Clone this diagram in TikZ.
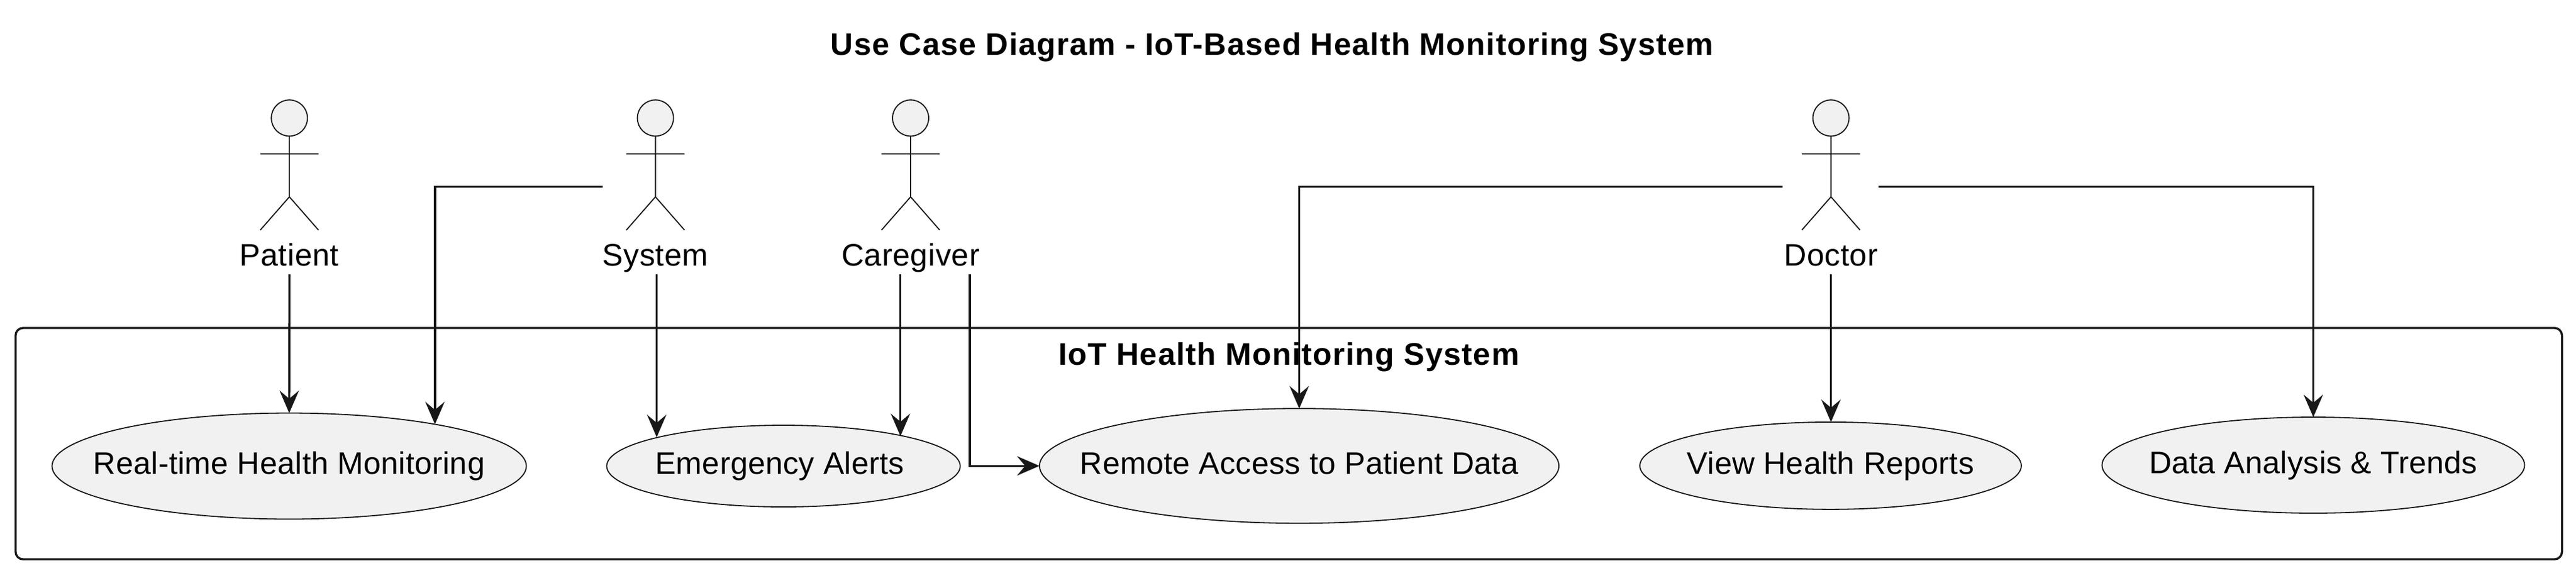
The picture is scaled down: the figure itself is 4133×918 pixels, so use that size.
\documentclass[tikz,border=0pt]{standalone}
\usepackage{fontspec}
\setmainfont{Liberation Sans}
\newfontfamily\titlefamily[LetterSpace=2.8]{Liberation Sans}
\newfontfamily\actorfamily[LetterSpace=1.2]{Liberation Sans}
\newfontfamily\casefamily[LetterSpace=0.7]{Liberation Sans}
\usetikzlibrary{arrows.meta,shapes.geometric}
\definecolor{umlline}{HTML}{181818}
\definecolor{umlfill}{HTML}{F1F1F1}
\newcommand{\casetext}[1]{\makebox[0pt]{#1}}
\tikzset{
    boldtext/.style={font=\titlefamily\fontsize{25}{29}\selectfont\bfseries,text=black,inner sep=0,outer sep=0,anchor=base},
    actorlabel/.style={font=\actorfamily\fontsize{25}{29}\selectfont,text=black,inner sep=0,outer sep=0,text height=18pt,text depth=7pt,anchor=north},
    usecase/.style={font=\casefamily\fontsize{25}{29}\selectfont,text=black,inner sep=0,outer sep=0,ellipse,draw=umlline,fill=umlfill,line width=0.9pt,text height=18pt,text depth=4.8pt},
    sysframe/.style={draw=umlline,line width=1.7pt,rounded corners=6pt,inner sep=0,outer sep=0},
    conn/.style={draw=umlline,line width=1.7pt,-{Stealth[length=18pt,width=15.5pt,inset=6.5pt,umlline]}},
    stickman/.pic={
        \draw[umlline,line width=0.9pt,fill=umlfill] (0,0) circle (29);
        \draw[umlline,line width=0.9pt] (0,29)--(0,126.4) (-46.7,57.4)--(46.7,57.4)
            (-46.7,179.7)--(0,126.4)--(46.7,179.7);
    }
}
\begin{document}
\begin{tikzpicture}[x=0.5pt,y=-0.5pt]
            \useasboundingbox (0,0) rectangle (4133,918);
            \node[boldtext] (maintitle) at (2041,88.3) {Use Case Diagram - IoT-Based Health Monitoring System};
            \node[sysframe,minimum width=2042.75pt,minimum height=185.5pt] (sysbox) at (2067.75,711.5) {};
            \node[boldtext] (systitle) at (2068,585.7) {IoT Health Monitoring System};

            \pic at (464.3,189.3) {stickman};
            \pic at (1051.6,189.3) {stickman};
            \pic at (1461,189.3) {stickman};
            \pic at (2937.6,189.3) {stickman};
            \node[actorlabel] (patient) at (464.3,390) {Patient};
            \node[actorlabel] (system) at (1051.6,390) {System};
            \node[actorlabel] (caregiver) at (1461,390) {Caregiver};
            \node[actorlabel] (doctor) at (2937.6,390) {Doctor};

            \node[usecase,minimum width=380.5pt,minimum height=85pt] (monitoring) at (464,747.5) {\casetext{Real-time Health Monitoring}};
            \node[usecase,minimum width=283.6pt,minimum height=65.5pt] (alerts) at (1257,747.5) {\casetext{Emergency Alerts\hspace{6pt}}};
            \node[usecase,minimum width=416.7pt,minimum height=92pt] (remote) at (2084.5,747.2) {\casetext{Remote Access to Patient Data}};
            \node[usecase,minimum width=306pt,minimum height=70pt] (reports) at (2937,746.9) {\casetext{View Health Reports}};
            \node[usecase,minimum width=339pt,minimum height=77pt] (trends) at (3711.5,746) {\casetext{Data Analysis \& Trends}};

            \coordinate (sysleft) at (967,299.5);
            \coordinate (sysdown) at (1053.6,440);
            \coordinate (carein) at (1444.7,440);
            \coordinate (careout) at (1556,440);
            \coordinate (docleft) at (2860,299.5);
            \coordinate (docright) at (3013.6,299.5);

            \draw[conn] (patient.south)--(monitoring.north);
            \draw[conn] (sysleft)-|(monitoring.16.4);
            \draw[conn] (sysdown)--(sysdown|-alerts.167.34);
            \draw[conn] (carein)--(carein|-alerts.14.66);
            \draw[conn] (careout)|-(remote.west);
            \draw[conn] (docleft)-|(remote.north);
            \draw[conn] (doctor.south)--(doctor.south|-reports.north);
            \draw[conn] (docright)-|(trends.north);
        \end{tikzpicture}
\end{document}
